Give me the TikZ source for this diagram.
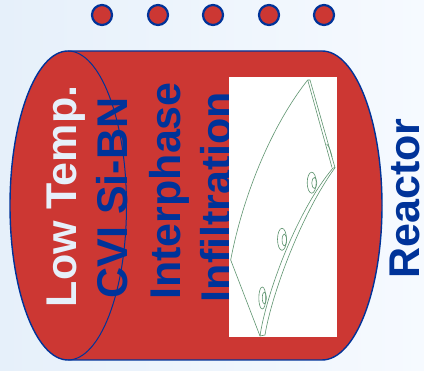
\documentclass[tikz,border=0pt]{standalone}
\usepackage{fontspec}
\setmainfont{Liberation Sans}
\usepackage{xcolor}
\definecolor{reactorred}{HTML}{CC3733}
\definecolor{reactorblue}{HTML}{003399}
\definecolor{partgreen}{HTML}{5F9470}
\definecolor{bgleft}{HTML}{E6F0FA}
\definecolor{bgright}{HTML}{F6FAFF}
\usetikzlibrary{positioning}

\begin{document}
\begin{tikzpicture}[
  x=1pt, y=-1pt,
  vessel/.style={draw=reactorblue, line width=1.4pt, fill=reactorred},
  lbl/.style={rotate=90, anchor=base, inner sep=0pt,
              font=\fontsize{43}{43}\selectfont\bfseries, text=reactorblue},
  port/.style={circle, draw=reactorblue, line width=2.2pt, fill=reactorred,
               minimum size=20pt, inner sep=0pt},
  part/.style={draw=partgreen, line width=0.6pt}
]
\useasboundingbox (0,0) rectangle (424,371);
\shade[left color=bgleft, right color=bgright] (0,0) rectangle (424,371);
% ports along the top
\foreach \i/\px in {1/102, 2/158, 3/213, 4/269, 5/324}
  \node[port] (port\i) at (\px,15) {};
% vessel
\path[vessel] (68,51) -- (322,51) arc[start angle=90, end angle=-90, x radius=60pt, y radius=154.5pt]
  -- (68,360) arc[start angle=-90, end angle=-270, x radius=58pt, y radius=154.5pt] -- cycle;
\draw[reactorblue, line width=1pt] (68,51) arc[start angle=90, end angle=-90, x radius=58.5pt, y radius=154.5pt];
% labels
\node[lbl, text=bgleft] (temp) at (77,196.5) {Low Temp.};
\node[lbl] (cvi) at (128,198) {CVI Si-BN};
\node[lbl] (inter) at (180,191) {Interphase};
\node[lbl] (infil) at (231,197) {Infiltration};
\node[lbl] (reactor) at (419.5,198.5) {Reactor};
% preform on its white panel
\fill[white] (229,77) rectangle (337,337);
\draw[part] (230.7,260) .. controls (243,195) and (272,125) .. (307.7,80);
\draw[part] (230.7,260) -- (260,336) -- (265,335);
\draw[part] (307.7,80) -- (310,80) -- (335,167.7) -- (333,168);
\draw[part] (307.7,80) -- (332,167.5);
\draw[part] (260,336) .. controls (266,295) and (296,212) .. (333,168);
\draw[part] (265,335) .. controls (271,297) and (300,216) .. (335,167.7);
\draw[part] (326.7,144) .. controls (329,146) and (331,152) .. (332,157);
\draw[part] (311.7,182.7) ellipse[x radius=4.5pt, y radius=10.5pt];
\draw[part] (314.3,183) ellipse[x radius=2.5pt, y radius=5.5pt];
\draw[part] (282,239.3) ellipse[x radius=4.5pt, y radius=11pt];
\draw[part] (284.3,240) ellipse[x radius=2.2pt, y radius=6pt];
\draw[part] (262.3,298) ellipse[x radius=3.5pt, y radius=11pt];
\draw[part] (264.3,298) ellipse[x radius=2pt, y radius=6pt];
\end{tikzpicture}
\end{document}
